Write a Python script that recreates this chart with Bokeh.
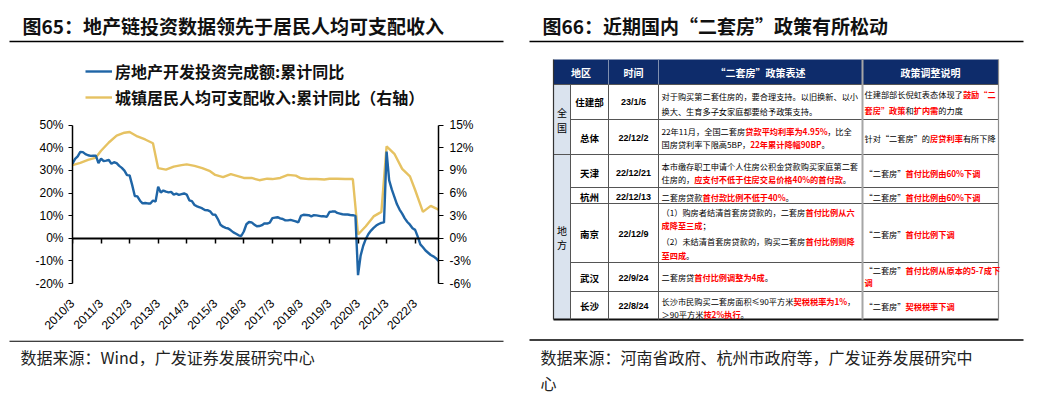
import math
from bokeh.plotting import figure
from bokeh.models import (Range1d, LinearAxis, FixedTicker, PrintfTickFormatter,
                          Legend, LegendItem)
from bokeh.layouts import row, column
from bokeh.core.properties import value
from bokeh.embed import file_html
from bokeh.resources import INLINE

# ---------------------------------------------------------------- chart data
tick_labels = ["2010/3", "2011/3", "2012/3", "2013/3", "2014/3", "2015/3", "2016/3",
               "2017/3", "2018/3", "2019/3", "2020/3", "2021/3", "2022/3"]
series_names = ["房地产开发投资完成额:累计同比", "城镇居民人均可支配收入:累计同比（右轴）"]

# 房地产开发投资完成额:累计同比 (%), Feb..Dec of each year (left axis)
invest_2010 = [33.0, 35.1, 36.2, 38.2, 38.1, 37.2, 36.7, 36.4, 36.5, 36.5, 33.2]
invest_2011 = [35.2, 34.1, 34.3, 34.6, 32.9, 33.6, 33.2, 32.0, 31.1, 29.9, 27.9]
invest_2012 = [27.8, 23.5, 18.7, 18.5, 16.6, 15.4, 15.6, 15.4, 15.4, 16.7, 16.2]
invest_2013 = [22.8, 20.2, 21.1, 20.6, 20.3, 20.5, 19.3, 19.7, 19.2, 19.5, 19.8]
invest_2014 = [19.3, 16.8, 16.4, 14.7, 14.1, 13.7, 13.2, 12.5, 12.4, 11.9, 10.5]
invest_2015 = [10.4, 8.5, 6.0, 5.1, 4.6, 4.3, 3.5, 2.6, 2.0, 1.3, 1.0]
invest_2016 = [3.0, 6.2, 7.2, 7.0, 6.1, 5.3, 5.4, 5.8, 6.6, 6.5, 6.9]
invest_2017 = [8.9, 9.1, 9.3, 8.8, 8.5, 7.9, 7.9, 8.1, 7.8, 7.5, 7.0]
invest_2018 = [9.9, 10.4, 10.3, 10.2, 9.7, 10.2, 10.1, 9.9, 9.7, 9.7, 9.5]
invest_2019 = [11.6, 11.8, 11.9, 11.2, 10.9, 10.6, 10.5, 10.5, 10.3, 10.2, 9.9]
invest_2020 = [-16.3, -7.7, -3.3, -0.3, 1.9, 3.4, 4.6, 5.6, 6.3, 6.8, 7.0]
invest_2021 = [38.3, 25.6, 21.6, 18.3, 15.0, 12.7, 10.9, 8.8, 7.2, 6.0, 4.4]
invest_2022 = [3.7, 0.7, -2.7, -4.0, -5.4, -6.4, -7.4, -8.0, -8.8, -10.0]

# 城镇居民人均可支配收入:累计同比 (%), Q1..Q4 of each year (right axis)
income_2010 = [9.7, 10.0, 10.4, 10.7]
income_2011 = [11.6, 12.7, 13.6, 14.0]
income_2012 = [14.1, 13.5, 13.1, 12.6]
income_2013 = [9.3, 9.1, 9.5, 9.7]
income_2014 = [9.8, 9.6, 9.3, 8.9]
income_2015 = [8.4, 8.1, 8.5, 8.2]
income_2016 = [8.0, 8.0, 7.7, 7.9]
income_2017 = [7.85, 8.0, 8.4, 8.3]
income_2018 = [7.95, 7.85, 7.85, 7.8]
income_2019 = [7.9, 7.9, 7.85, 7.85]
income_2020 = [0.5, 1.6, 2.9, 3.5]
income_2021 = [12.2, 11.2, 9.2, 8.2]
income_2022 = [6.4, 3.5, 4.3, 3.8]

left_ticks = [-20, -10, 0, 10, 20, 30, 40, 50]
right_ticks = [-6, -3, 0, 3, 6, 9, 12, 15]

# ---------------------------------------------------------------- texts
title_left = "图65：地产链投资数据领先于居民人均可支配收入"
title_right = "图66：近期国内“二套房”政策有所松动"
source_left = "数据来源：Wind，广发证券发展研究中心"
source_right = ["数据来源：河南省政府、杭州市政府等，广发证券发展研究中", "心"]

# ---------------------------------------------------------------- table data
table_header = ["地区", "时间", "“二套房”政策表述", "政策调整说明"]
groups = ["全国", "地方"]
regions = ["住建部", "总体", "天津", "杭州", "南京", "武汉", "长沙"]
dates = ["23/1/5", "22/12/2", "22/12/21", "22/12/13", "22/12/9", "22/9/24", "22/8/24"]
# each line: list of (text, highlighted)
policies = [
    [[("对于购买第二套住房的，要合理支持。以旧换新、以小", False)],
     [("换大、生育多子女家庭都要给予政策支持。", False)]],
    [[("22年11月，全国二套房", False), ("贷款平均利率为4.95%", True), ("，比全", False)],
     [("国房贷利率下限高5BP，", False), ("22年累计降幅90BP", True), ("。", False)]],
    [[("本市缴存职工申请个人住房公积金贷款购买家庭第二套", False)],
     [("住房的，", False), ("应支付不低于住房交易价格40%的首付款", True), ("。", False)]],
    [[("二套房贷款", False), ("首付款比例不低于40%", True), ("。", False)]],
    [[("（1）购房者结清首套房贷款的，二套房", False), ("首付比例从六", True)],
     [("成降至三成", True), ("；", False)],
     [("（2）未结清首套房贷款的，购买二套房", False), ("首付比例则降", True)],
     [("至四成", True), ("。", False)]],
    [[("二套房贷", False), ("首付比例调整为4成", True), ("。", False)]],
    [[("长沙市民购买二套房面积≤90平方米", False), ("契税税率为1%", True), ("，", False)],
     [("＞90平方米", False), ("按2%执行", True), ("。", False)]],
]
explanations = [
    [[("住建部部长倪虹表态体现了", False), ("鼓励“二", True)],
     [("套房”政策", True), ("和", False), ("扩内需", True), ("的力度", False)]],
    [[("针对“二套房”的", False), ("房贷利率", True), ("有所下降", False)]],
    [[("“二套房”", False), ("首付比例由60%下调", True)]],
    [[("“二套房”", False), ("首付比例由60%下调", True)]],
    [[("“二套房”", False), ("首付比例下调", True)]],
    [[("“二套房”", False), ("首付比例从原本的5-7成下", True)],
     [("调", True)]],
    [[("“二套房”", False), ("契税税率下调", True)]],
]

# ---------------------------------------------------------------- styles
BLUE = "#1f65a6"
GOLD = "#e6c262"
INK = "#000000"
RED = "#ff0000"
NAVY = "#0e2c6b"
CJK = "Noto Sans CJK SC"
LAT = "Liberation Sans"


def blank(w, h, xr, yr):
    p = figure(width=w, height=h, x_range=Range1d(*xr), y_range=Range1d(*yr),
               output_backend="svg", toolbar_location=None, min_border=0,
               x_axis_location=None, y_axis_location=None, frame_align=False)
    p.grid.visible = False
    p.outline_line_color = None
    p.background_fill_color = "white"
    p.border_fill_color = "white"
    return p


def tw(s, fs, bold=False):
    w = 0.0
    for ch in s:
        if ord(ch) >= 0x2E80 or ch in "“”≤＞（）":
            w += 1.0
            continue
        if ch.isdigit():
            c = 0.555
        elif ch == "%":
            c = 0.88
        elif ch in ".,:":
            c = 0.27
        elif ch == "/":
            c = 0.36
        elif ch == "-":
            c = 0.34
        elif ch in "BP":
            c = 0.63
        else:
            c = 0.56
        w += c * (1.06 if bold else 1.0)
    return w * fs


def txt(p, x, y, t, size, color=INK, font=CJK, style="normal", align="left"):
    p.text(x=[x], y=[y], text=[t], text_font=value(font), text_font_size=f"{size}px",
           text_font_style=style, text_color=color, text_align=align,
           text_baseline="middle")


def put_line(p, segs, x0, y, fs):
    x = x0
    for s, hl in segs:
        txt(p, x, y, s, fs, color=RED if hl else INK, style="bold" if hl else "normal")
        x += tw(s, fs, hl)


# layout (page px, root at the page's top-left corner)
LEFT_W, RIGHT_W = 523, 507
HEAD_B, CHART_B, PAGE_B = 45, 340, 395

# ---------------------------------------------------------------- left header
head = blank(LEFT_W, HEAD_B, (0, LEFT_W), (HEAD_B, 0))
txt(head, 22, 25, title_left, 19, color="#111111", style="bold")
head.segment(x0=[9], y0=[41], x1=[503], y1=[41], line_color="#000000", line_width=1.3)

# ---------------------------------------------------------------- chart
per_year = 11  # Feb..Dec points per year on the category axis
years_invest = [invest_2010, invest_2011, invest_2012, invest_2013, invest_2014, invest_2015,
                invest_2016, invest_2017, invest_2018, invest_2019, invest_2020, invest_2021,
                invest_2022]
years_income = [income_2010, income_2011, income_2012, income_2013, income_2014, income_2015,
                income_2016, income_2017, income_2018, income_2019, income_2020, income_2021,
                income_2022]
invest = [v for yr in years_invest for v in yr]
invest_x = list(range(len(invest)))
income = [v for yr in years_income for v in yr]
income_x = [k * per_year + 3 * q for k, yr in enumerate(years_income) for q in range(len(yr))]
tick_pos = [k * per_year for k in range(len(tick_labels))]

# frame spans the legend area too; axes are bounded to the value range
FRAME_L, FRAME_R, FRAME_B = 72, 438, 287
PX_PER_PCT = 2.3
FRAME_H = FRAME_B - HEAD_B
left_top = left_ticks[0] + FRAME_H / PX_PER_PCT
right_scale = (right_ticks[-1] - right_ticks[0]) / (left_ticks[-1] - left_ticks[0])
right_top = right_ticks[0] + FRAME_H / PX_PER_PCT * right_scale

chart = figure(width=LEFT_W, height=CHART_B - HEAD_B, x_range=Range1d(0, 141),
               y_range=Range1d(left_ticks[0], left_top),
               output_backend="svg", toolbar_location=None, frame_align=False,
               x_axis_location=None, y_axis_location="left",
               min_border_left=FRAME_L, min_border_right=LEFT_W - FRAME_R,
               min_border_top=0, min_border_bottom=CHART_B - FRAME_B)
chart.grid.visible = False
chart.outline_line_color = None
chart.extra_y_ranges = {"r": Range1d(right_ticks[0], right_top)}

ly = chart.yaxis[0]
ly.ticker = FixedTicker(ticks=left_ticks)
ly.bounds = (left_ticks[0], left_ticks[-1])
ly.formatter = PrintfTickFormatter(format="%d%%")
ly.minor_tick_line_color = None
ly.major_tick_out = 4
ly.major_tick_in = 0
ly.axis_line_width = 1.5
ly.major_label_text_font = LAT
ly.major_label_text_font_size = "12px"
ly.major_label_text_color = INK
ly.major_label_standoff = 5

ry_axis = LinearAxis(y_range_name="r", ticker=FixedTicker(ticks=right_ticks),
                     bounds=(right_ticks[0], right_ticks[-1]),
                     formatter=PrintfTickFormatter(format="%d%%"),
                     minor_tick_line_color=None, major_tick_out=5, major_tick_in=0,
                     axis_line_width=1.5, major_label_text_font=LAT,
                     major_label_text_font_size="12px", major_label_text_color=INK,
                     major_label_standoff=6)
chart.add_layout(ry_axis, "right")

zero_axis = LinearAxis(fixed_location=0, ticker=FixedTicker(ticks=tick_pos),
                       major_label_text_color=None, major_label_text_font_size="1px",
                       major_tick_out=5, major_tick_in=0, major_label_standoff=0,
                       minor_tick_line_color=None, axis_line_width=2,
                       major_tick_line_width=1.5)
chart.add_layout(zero_axis, "below")
label_axis = LinearAxis(ticker=FixedTicker(ticks=tick_pos),
                        major_label_overrides={t: l for t, l in zip(tick_pos, tick_labels)},
                        axis_line_color=None, major_tick_line_color=None,
                        minor_tick_line_color=None, major_label_orientation=math.pi / 4,
                        major_label_text_font=LAT, major_label_text_font_size="12px",
                        major_label_text_color=INK, major_label_standoff=12)
chart.add_layout(label_axis, "below")

r_inc = chart.line(income_x, income, y_range_name="r", line_color=GOLD, line_width=2.4)
r_inv = chart.line(invest_x, invest, line_color=BLUE, line_width=2.4)

legend = Legend(items=[LegendItem(label=series_names[0], renderers=[r_inv]),
                       LegendItem(label=series_names[1], renderers=[r_inc])],
                location=(13, 174), orientation="vertical", border_line_color=None,
                background_fill_alpha=0, padding=0, margin=0, spacing=2,
                glyph_width=27, glyph_height=20, label_height=20, label_standoff=3,
                label_text_font=CJK, label_text_font_size="16px",
                label_text_font_style="bold", label_text_color="#111111")
chart.add_layout(legend)

# ---------------------------------------------------------------- left footer
foot = blank(LEFT_W, PAGE_B - CHART_B, (0, LEFT_W), (PAGE_B, CHART_B))
foot.segment(x0=[9], y0=[340.7], x1=[503], y1=[340.7], line_color="#000000", line_width=1.3)
txt(foot, 20, 356, source_left, 16, color="#222222")

# ---------------------------------------------------------------- right panel (table)
rp = blank(RIGHT_W, PAGE_B, (LEFT_W, LEFT_W + RIGHT_W), (PAGE_B, 0))
txt(rp, 542, 25, title_right, 19, color="#111111", style="bold")
rp.segment(x0=[529], y0=[41], x1=[1023], y1=[41], line_color="#000000", line_width=1.3)
rp.segment(x0=[529], y0=[339.5], x1=[1023], y1=[339.5], line_color="#000000",
           line_width=1.3)
txt(rp, 540, 356, source_right[0], 16, color="#222222")
txt(rp, 540, 382, source_right[1], 16, color="#222222")

T_L, T_R = 553, 998
col_x = [553, 570, 608, 658, 862, 998]
head_top, head_bot = 59, 84
row_edges = [84, 119, 154, 187, 203, 262, 291, 319]
group_starts = [0, 2]

rp.quad(left=[T_L], right=[T_R], top=[head_top], bottom=[head_bot], fill_color=NAVY,
        line_color=None)
rp.quad(left=[col_x[0]], right=[col_x[1]], top=[head_bot], bottom=[row_edges[-1]],
        fill_color="#dae3ee", line_color=None)

hx = [(col_x[0] + col_x[2]) / 2, (col_x[2] + col_x[3]) / 2, (col_x[3] + col_x[4]) / 2,
      (col_x[4] + col_x[5]) / 2]
for x, t in zip(hx, table_header):
    txt(rp, x, 72, t, 10, color="white", style="bold", align="center")

hx0, hx1, hy = [T_L], [T_R], [head_bot]
for i, y in enumerate(row_edges[1:-1], start=1):
    hx0.append(col_x[0] if i in group_starts else col_x[1]); hx1.append(T_R); hy.append(y)
rp.segment(x0=hx0, y0=hy, x1=hx1, y1=hy, line_color="#555555", line_width=1)
rp.segment(x0=[T_L], y0=[row_edges[-1]], x1=[T_R], y1=[row_edges[-1]], line_color="#111111",
           line_width=2)
vx = col_x[1:4]
rp.segment(x0=vx, y0=[head_bot] * 3, x1=vx, y1=[row_edges[-1]] * 3,
           line_color="#555555", line_width=1)
rp.segment(x0=col_x[2:4], y0=[head_top] * 2, x1=col_x[2:4], y1=[head_bot] * 2,
           line_color="#8090b0", line_width=1)
rp.segment(x0=[col_x[4]], y0=[head_top], x1=[col_x[4]], y1=[row_edges[-1]],
           line_color="#a6a6a6", line_width=2)
rp.segment(x0=[T_L], y0=[head_top], x1=[T_L], y1=[row_edges[-1]], line_color="#333333",
           line_width=1.2)
rp.segment(x0=[T_R], y0=[head_top], x1=[T_R], y1=[row_edges[-1]], line_color="#8c8c8c",
           line_width=1.2)

gx = (col_x[0] + col_x[1]) / 2
g_chars_y = [[112, 126.5], [230, 243.5]]
for g, ys in zip(groups, g_chars_y):
    for ch, y in zip(g, ys):
        txt(rp, gx, y, ch, 10, align="center")

row_mid = [101.5, 137, 172, 196, 233, 277, 305]
for r, d, y in zip(regions, dates, row_mid):
    txt(rp, (col_x[1] + col_x[2]) / 2, y, r, 9.5, style="bold", align="center")
    txt(rp, (col_x[2] + col_x[3]) / 2, y, d, 9, font=LAT, style="bold", align="center")

FS = 8.2
policy_y = [[95, 110.5], [130, 143.5], [165, 178.5], [196], [211.5, 224.5, 240, 254],
            [276.5], [300, 313.5]]
expl_y = [[93, 109.5], [137], [172], [196], [233], [269.5, 281], [305]]
for lines, ys in zip(policies, policy_y):
    for segs, y in zip(lines, ys):
        put_line(rp, segs, col_x[3] + 3, y, FS)
for lines, ys in zip(explanations, expl_y):
    for segs, y in zip(lines, ys):
        put_line(rp, segs, col_x[4] + 2, y, FS)

layout = row(column(head, chart, foot), rp)
open("out.html", "w").write(file_html(layout, INLINE))
